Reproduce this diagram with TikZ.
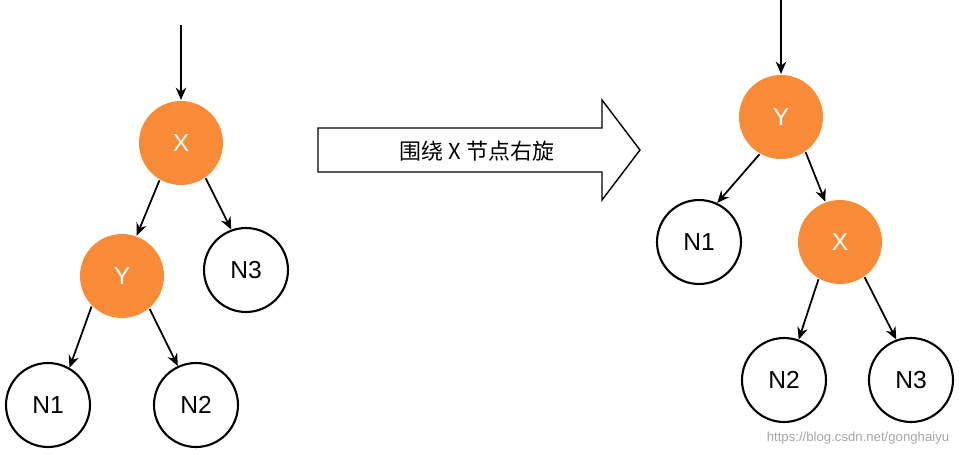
\documentclass[tikz,border=0pt]{standalone}
\usepackage{fontspec}
\setmainfont{Liberation Sans}
\newfontfamily\cjk{Noto Sans CJK SC}
\usetikzlibrary{arrows.meta}
\definecolor{ornge}{HTML}{F78B38}
\begin{document}
\begin{tikzpicture}[x=0.02cm,y=-0.02cm,
  nd/.style={circle,draw=black,line width=1.2pt,minimum size=1.68cm,inner sep=0pt,font=\fontsize{14}{16}\selectfont},
  red/.style={nd,draw=none,fill=ornge,text=white},
  arr/.style={-{Stealth[length=7pt,width=6pt]},line width=1pt}]
\useasboundingbox (0,0) rectangle (975,454);
% left tree
\coordinate (ls) at (181,25);
\node[red] (lx) at (181,143) {X};
\node[red] (ly) at (122,276) {Y};
\node[nd] (ln3) at (246,270) {N3};
\node[nd] (ln1) at (48,405) {N1};
\node[nd] (ln2) at (196,405) {N2};
\draw[arr] (ls) -- (lx);
\draw[arr] (lx.-120) -- (ly.70);
\draw[arr] (lx.-55) -- (ln3.110);
\draw[arr] (ly.-135) -- (ln1.60);
\draw[arr] (ly.-50) -- (ln2.115);
% big arrow
\draw[line width=0.8pt,fill=white] (318,128) -- (602,128) -- (602,100) -- (640,150) -- (602,200) -- (602,172) -- (318,172) -- cycle;
\node[font=\cjk\fontsize{12.5}{14}\selectfont] (lbl) at (477,151) {围绕 X 节点右旋};
% right tree
\coordinate (rs) at (781,0);
\node[red] (ry) at (781,117) {Y};
\node[nd] (rn1) at (699,242) {N1};
\node[red] (rx) at (840,242) {X};
\node[nd] (rn2) at (784,380) {N2};
\node[nd] (rn3) at (911,380) {N3};
\draw[arr] (rs) -- (ry);
\draw[arr] (ry.-120) -- (rn1.65);
\draw[arr] (ry.-55) -- (rx.110);
\draw[arr] (rx.-120) -- (rn2.70);
\draw[arr] (rx.-55) -- (rn3.110);
\node[text=gray!70,font=\fontsize{7.5}{9}\selectfont] (wm) at (858,438) {https://blog.csdn.net/gonghaiyu};
\end{tikzpicture}
\end{document}
